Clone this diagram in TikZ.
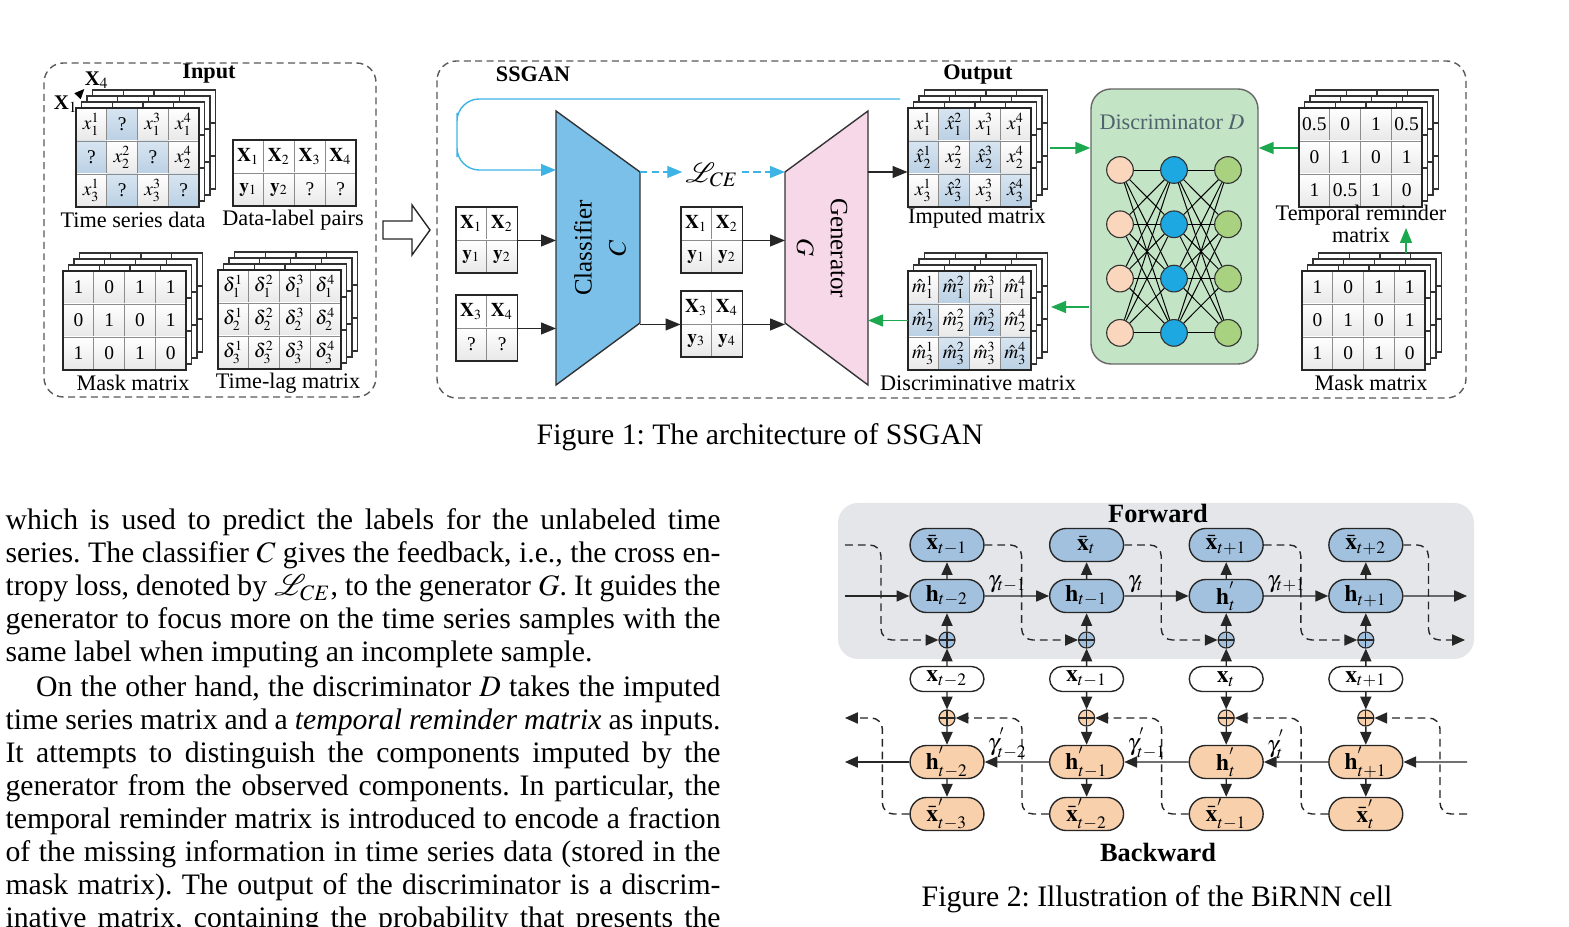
\documentclass[tikz,border=0pt]{standalone}
\usepackage{mathptmx}
\usepackage{fontspec}
\setmainfont{Liberation Serif}
\usetikzlibrary{arrows.meta,shapes.misc}

\definecolor{qtop}{RGB}{216,229,241}
\definecolor{qbot}{RGB}{186,208,228}
\definecolor{clsblue}{RGB}{122,192,233}
\definecolor{genpink}{RGB}{246,216,232}
\definecolor{discgreen}{RGB}{196,228,198}
\definecolor{dlabel}{RGB}{80,98,110}
\definecolor{fbblue}{RGB}{62,180,230}
\definecolor{arrgreen}{RGB}{28,168,78}
\definecolor{neurpeach}{RGB}{250,214,188}
\definecolor{neurblue}{RGB}{30,168,226}
\definecolor{neurgreen}{RGB}{168,210,128}
\definecolor{fwdblue}{RGB}{162,193,222}
\definecolor{bwdpeach}{RGB}{248,208,172}
\definecolor{bggray}{RGB}{229,230,233}

\tikzset{
  cell/.style={draw=black!45, line width=0.35pt, minimum width=11.07pt,
    minimum height=11.88pt, inner sep=0pt, font=\fontsize{7}{8}\selectfont},
  wc/.style={fill=white},
  pc/.style={top color=white, bottom color=black!9},
  qc/.style={top color=qtop, bottom color=qbot},
  matframe/.style={draw=black!85, line width=0.7pt},
  backgrid/.style={draw=black!80, line width=0.5pt, fill=white},
  lbl/.style={font=\fontsize{8}{9}\selectfont, inner sep=0pt},
  head/.style={font=\bfseries\fontsize{8}{9}\selectfont, inner sep=0pt},
  group/.style={draw=black!65, line width=0.5pt, dash pattern=on 2.5pt off 1.6pt,
    rounded corners=7pt},
  barr/.style={-{Triangle[length=5.4pt,width=4.3pt]}, line width=0.5pt, black!85},
  garr/.style={-{Triangle[length=5.4pt,width=4.3pt]}, line width=0.6pt, arrgreen},
  fbline/.style={-{Triangle[length=5.4pt,width=4.3pt]}, line width=0.5pt, fbblue},
  fbdash/.style={fbline, dash pattern=on 2.6pt off 1.6pt},
  trap/.style={draw=black!80, line width=0.5pt},
  neuron/.style={circle, draw=black!80, line width=0.4pt, minimum size=9.6pt, inner sep=0pt},
  wire/.style={line width=0.35pt, black},
  fwd/.style={shape=rounded rectangle, draw=black!85, line width=0.5pt, fill=fwdblue,
    minimum width=26.6pt, minimum height=11.9pt, inner sep=0pt,
    font=\fontsize{8.5}{9}\selectfont},
  bwd/.style={fwd, fill=bwdpeach},
  inp/.style={fwd, fill=white, minimum height=9pt},
  plus/.style={circle, draw=black!85, line width=0.4pt, minimum size=5.8pt, inner sep=0pt,
    path picture={\draw[black!85, line width=0.4pt]
      (path picture bounding box.north) -- (path picture bounding box.south)
      (path picture bounding box.west) -- (path picture bounding box.east);}},
  arr/.style={-{Triangle[length=4.6pt,width=4pt]}, line width=0.5pt, black!85},
  darr/.style={arr, dash pattern=on 2.8pt off 1.8pt, rounded corners=4pt},
  gam/.style={font=\fontsize{8.5}{9}\selectfont, inner sep=1pt, anchor=south west},
  bodytext/.style={text width=257.4pt, align=justify, inner sep=0pt, anchor=base west,
    font=\fontsize{10.7}{11.88}\selectfont},
  caption/.style={font=\fontsize{10.7}{12}\selectfont, inner sep=0pt}
}

% one matrix with three layers stacked behind it
\newcommand\stackmat[3]{%
  \begin{scope}[shift={#1}]
    \foreach \k in {3,2,1}
      \draw[backgrid, shift={(5.5*\k,-6*\k)}] (0,0) rectangle (123,99)
        (30.75,0) -- (30.75,99) (61.5,0) -- (61.5,99) (92.25,0) -- (92.25,99)
        (0,33) -- (123,33) (0,66) -- (123,66);
    \foreach \sty/\txt [count=\i from 0] in {#3} {
      \pgfmathtruncatemacro\col{mod(\i,4)}
      \pgfmathtruncatemacro\row{div(\i,4)}
      \node[cell, \sty] (#2-\row-\col) at (\col*30.75+15.375, \row*33+16.5) {\txt};
    }
    \draw[matframe] (0,0) rectangle (123,99);
  \end{scope}}

% two-row table of data and labels
\newcommand\pairbox[4]{%
  \begin{scope}[shift={#1}]
    \foreach \sty/\txt [count=\i from 0] in {#4} {
      \pgfmathtruncatemacro\col{mod(\i,#3)}
      \pgfmathtruncatemacro\row{div(\i,#3)}
      \node[cell, \sty] (#2-\row-\col) at (\col*30.75+15.375, \row*33+16.5) {\txt};
    }
    \draw[matframe] (0,0) rectangle (#3*30.75,66);
  \end{scope}}

\frenchspacing
\begin{document}
\begin{tikzpicture}[x=0.36pt, y=-0.36pt]
  \useasboundingbox[fill=white] (0,0) rectangle (1569,927);

  %% Figure 1
  \draw[group] (44,63) rectangle (376,397);
  \draw[group] (437,61) rectangle (1466,398);
  \node[head] (inhead) at (209,74) {Input};
  \node[head] (sshead) at (533,74) {SSGAN};
  \node[head] (outhead) at (978,75) {Output};

  % input
  \stackmat{(76,108)}{ts}{pc/{$x^1_1$}, qc/?, pc/{$x^3_1$}, pc/{$x^4_1$},
    qc/?, pc/{$x^2_2$}, qc/?, pc/{$x^4_2$},
    pc/{$x^1_3$}, qc/?, pc/{$x^3_3$}, qc/?}
  \node[font=\bfseries\fontsize{7.5}{8}\selectfont, inner sep=0pt] (ax1) at (66,104) {X$_1$};
  \node[font=\bfseries\fontsize{7.5}{8}\selectfont, inner sep=0pt] (ax4) at (97,80) {X$_4$};
  \draw[-{Triangle[length=3.6pt,width=3pt]}, line width=0.6pt] (ax1.north east) -- (ax4.south west);
  \pairbox{(233,140)}{dl}{4}{wc/{$\mathbf{X}_1$}, wc/{$\mathbf{X}_2$}, wc/{$\mathbf{X}_3$},
    wc/{$\mathbf{X}_4$}, pc/{$\mathbf{y}_1$}, pc/{$\mathbf{y}_2$}, pc/?, pc/?}
  \node[lbl] (tslab) at (133,220) {Time series data};
  \node[lbl] (dllab) at (293,220) {Data-label pairs};
  \stackmat{(63,271)}{mk}{pc/1, pc/0, pc/1, pc/1, pc/0, pc/1, pc/0, pc/1, pc/1, pc/0, pc/1, pc/0}
  \stackmat{(218,270)}{tl}{pc/{$\delta^1_1$}, pc/{$\delta^2_1$}, pc/{$\delta^3_1$}, pc/{$\delta^4_1$},
    pc/{$\delta^1_2$}, pc/{$\delta^2_2$}, pc/{$\delta^3_2$}, pc/{$\delta^4_2$},
    pc/{$\delta^1_3$}, pc/{$\delta^2_3$}, pc/{$\delta^3_3$}, pc/{$\delta^4_3$}}
  \node[lbl] (mklab) at (133,383) {Mask matrix};
  \node[lbl] (tllab) at (288,383) {Time-lag matrix};

  % hollow arrow
  \draw[fill=white, draw=black!85, line width=0.5pt] (383,221) -- (412,221) -- (412,205)
    -- (430,230) -- (412,255) -- (412,239) -- (383,239) -- cycle;

  % classifier and generator
  \draw[trap, fill=clsblue] (556,111) -- (640,172) -- (640,323) -- (556,385) -- cycle;
  \draw[trap, fill=genpink] (785,172) -- (868,111) -- (868,385) -- (785,323) -- cycle;
  \coordinate (cls-l) at (556,111);
  \coordinate (cls-r) at (640,172);
  \coordinate (cls-fb) at (556,170);
  \coordinate (gen-l) at (785,172);
  \coordinate (gen-r) at (868,172);
  \node[rotate=90, align=center, font=\fontsize{9}{12.2}\selectfont] (clstext) at (600,248)
    {Classifier\\$C$};
  \node[rotate=-90, align=center, font=\fontsize{9}{12.2}\selectfont] (gentext) at (822,248)
    {Generator\\$G$};

  \pairbox{(456,207)}{bx1}{2}{wc/{$\mathbf{X}_1$}, wc/{$\mathbf{X}_2$}, pc/{$\mathbf{y}_1$}, pc/{$\mathbf{y}_2$}}
  \pairbox{(456,295)}{bx2}{2}{wc/{$\mathbf{X}_3$}, wc/{$\mathbf{X}_4$}, pc/?, pc/?}
  \pairbox{(681,207)}{bx3}{2}{wc/{$\mathbf{X}_1$}, wc/{$\mathbf{X}_2$}, pc/{$\mathbf{y}_1$}, pc/{$\mathbf{y}_2$}}
  \pairbox{(681,291)}{bx4}{2}{wc/{$\mathbf{X}_3$}, wc/{$\mathbf{X}_4$}, pc/{$\mathbf{y}_3$}, pc/{$\mathbf{y}_4$}}

  \draw[barr] (bx1-0-1.south east) -- (bx1-0-1.south east -| cls-l);
  \draw[barr] (bx2-0-1.south east) -- (bx2-0-1.south east -| cls-l);
  \draw[barr] (bx4-0-0.south west -| cls-r) -- (bx4-0-0.south west);
  \draw[barr] (bx3-0-1.south east) -- (bx3-0-1.south east -| gen-l);
  \draw[barr] (bx4-0-1.south east) -- (bx4-0-1.south east -| gen-l);

  % feedback loop
  \coordinate (fb-start) at (900,99);
  \draw[fbline, rounded corners=8pt] (fb-start) -| (457,135) |- (cls-fb);
  \node[font=\fontsize{10}{12}\selectfont, inner sep=1pt] (lce) at (712,175) {$\mathcal{L}_{CE}$};
  \draw[fbdash] (cls-r) -- (cls-r -| lce.west);
  \draw[fbdash] (lce.east |- gen-l) -- (gen-l);

  % output
  \stackmat{(908,108)}{im}{pc/{$x^1_1$}, qc/{$\hat{x}^2_1$}, pc/{$x^3_1$}, pc/{$x^4_1$},
    qc/{$\hat{x}^1_2$}, pc/{$x^2_2$}, qc/{$\hat{x}^3_2$}, pc/{$x^4_2$},
    pc/{$x^1_3$}, qc/{$\hat{x}^2_3$}, pc/{$x^3_3$}, qc/{$\hat{x}^4_3$}}
  \stackmat{(908,271)}{dm}{pc/{$\hat{m}^1_1$}, qc/{$\hat{m}^2_1$}, pc/{$\hat{m}^3_1$}, pc/{$\hat{m}^4_1$},
    qc/{$\hat{m}^1_2$}, pc/{$\hat{m}^2_2$}, qc/{$\hat{m}^3_2$}, pc/{$\hat{m}^4_2$},
    pc/{$\hat{m}^1_3$}, qc/{$\hat{m}^2_3$}, pc/{$\hat{m}^3_3$}, qc/{$\hat{m}^4_3$}}
  \node[lbl] (imlab) at (977,218) {Imputed matrix};
  \node[lbl] (dmlab) at (978,383) {Discriminative matrix};
  \draw[barr] (gen-r) -- (gen-r -| im-1-0.west);

  % discriminator
  \node[draw=black!60, line width=0.5pt, fill=discgreen, rounded corners=7.2pt,
    minimum width=60.1pt, minimum height=99pt, inner sep=0pt] (disc) at (1174.5,226.5) {};
  \node[lbl, text=dlabel] (dlab) at (1172,122) {Discriminator $D$};
  \foreach \j in {0,...,3} {
    \node[neuron, fill=neurpeach] (na\j) at (1120,170+54.3*\j) {};
    \node[neuron, fill=neurblue] (nb\j) at (1174,170+54.3*\j) {};
    \node[neuron, fill=neurgreen] (nc\j) at (1228,170+54.3*\j) {};
  }
  \foreach \a in {0,...,3}
    \foreach \b in {0,...,3} {
      \draw[wire] (na\a) -- (nb\b);
      \draw[wire] (nb\a) -- (nc\b);
    }

  % temporal reminder and mask
  \stackmat{(1299,108)}{tr}{pc/0.5, pc/0, pc/1, pc/0.5, pc/0, pc/1, pc/0, pc/1, pc/1, pc/0.5, pc/1, pc/0}
  \node[lbl, align=center, font=\fontsize{8}{6.2}\selectfont] (trlab) at (1361,224)
    {Temporal reminder\\matrix};
  \stackmat{(1302,271)}{mr}{pc/1, pc/0, pc/1, pc/1, pc/0, pc/1, pc/0, pc/1, pc/1, pc/0, pc/1, pc/0}
  \node[lbl] (mrlab) at (1371,383) {Mask matrix};

  \coordinate (im-out) at (1050,148);
  \coordinate (tr-out) at (1298,148);
  \coordinate (disc-out) at (1089,307);
  \coordinate (dm-in) at (1051,307);
  \coordinate (mr-top) at (1406,253);
  \coordinate (tr-foot) at (1406,228);
  \draw[garr] (im-out) -- (im-out -| disc.west);
  \draw[garr] (tr-out) -- (tr-out -| disc.east);
  \draw[garr] (disc-out) -- (dm-in);
  \draw[garr] (dm-1-0.west) -- (dm-1-0.west -| gen-r);
  \draw[garr] (mr-top) -- (tr-foot);

  \node[caption] (cap1) at (760,437) {Figure 1: The architecture of SSGAN};

  %% Figure 2
  \fill[bggray, rounded corners=7.2pt] (838,503) rectangle (1474,659);
  \node[font=\bfseries\fontsize{9.5}{10}\selectfont, inner sep=0pt] (fwdlab) at (1158,513) {Forward};
  \node[font=\bfseries\fontsize{9.5}{10}\selectfont, inner sep=0pt] (bwdlab) at (1158,852) {Backward};

  \foreach \i/\lxb/\lhf/\lxi/\lhb/\lxbb in {
    0/{$\bar{\mathbf{x}}_{t-1}$}/{$\mathbf{h}_{t-2}$}/{$\mathbf{x}_{t-2}$}/{$\mathbf{h}^{'}_{t-2}$}/{$\bar{\mathbf{x}}^{'}_{t-3}$},
    1/{$\bar{\mathbf{x}}_{t}$}/{$\mathbf{h}_{t-1}$}/{$\mathbf{x}_{t-1}$}/{$\mathbf{h}^{'}_{t-1}$}/{$\bar{\mathbf{x}}^{'}_{t-2}$},
    2/{$\bar{\mathbf{x}}_{t+1}$}/{$\mathbf{h}^{'}_{t}$}/{$\mathbf{x}_{t}$}/{$\mathbf{h}^{'}_{t}$}/{$\bar{\mathbf{x}}^{'}_{t-1}$},
    3/{$\bar{\mathbf{x}}_{t+2}$}/{$\mathbf{h}_{t+1}$}/{$\mathbf{x}_{t+1}$}/{$\mathbf{h}^{'}_{t+1}$}/{$\bar{\mathbf{x}}^{'}_{t}$}} {
    \pgfmathsetmacro\xx{947+139.6*\i}
    \node[fwd] (xb\i) at (\xx,545) {\lxb};
    \node[fwd] (hf\i) at (\xx,596) {\lhf};
    \node[plus, fill=fwdblue] (pf\i) at (\xx,640) {};
    \node[inp] (xi\i) at (\xx,679) {\lxi};
    \node[plus, fill=bwdpeach] (pb\i) at (\xx,718) {};
    \node[bwd] (hb\i) at (\xx,762) {\lhb};
    \node[bwd] (xbb\i) at (\xx,814) {\lxbb};
  }
  \foreach \i in {0,...,3} {
    \draw[arr] (xi\i) -- (pf\i);
    \draw[arr] (pf\i) -- (hf\i);
    \draw[arr] (hf\i) -- (xb\i);
    \draw[arr] (xi\i) -- (pb\i);
    \draw[arr] (pb\i) -- (hb\i);
    \draw[arr] (hb\i) -- (xbb\i);
  }
  \coordinate (f-in) at (845,596);
  \coordinate (f-out) at (1467,596);
  \coordinate (b-in) at (1467,762);
  \coordinate (b-out) at (845,762);
  \coordinate (fd-in) at (845,545);
  \coordinate (fd-out) at (1465,640);
  \coordinate (bd-in) at (1467,814);
  \coordinate (bd-out) at (845,718);
  \draw[arr] (f-in) -- (hf0);
  \draw[arr] (hf3) -- (f-out);
  \draw[arr] (b-in) -- (hb3);
  \draw[arr] (hb0) -- (b-out);
  \draw[darr] (fd-in) -- ++(36,0) |- (pf0.west);
  \draw[darr] (xb3.east) -- ++(25,0) |- (fd-out);
  \draw[darr] (bd-in) -- ++(-27,0) |- (pb3.east);
  \draw[darr] (xbb0.west) -- ++(-27,0) |- (bd-out);
  \foreach \i/\gf/\gb [evaluate=\i as \j using int(\i+1)] in
      {0/{$\gamma_{t-1}$}/{$\gamma^{'}_{t-2}$}, 1/{$\gamma_{t}$}/{$\gamma^{'}_{t-1}$},
       2/{$\gamma_{t+1}$}/{$\gamma^{'}_{t}$}} {
    \draw[arr] (hf\i) -- (hf\j);
    \draw[arr] (hb\j) -- (hb\i);
    \draw[darr] (xb\i.east) -- ++(37,0) |- (pf\j.west);
    \draw[darr] (xbb\j.west) -- ++(-27,0) |- (pb\i.east);
    \node[gam] (gf\i) at (hf\i.east) {\gf};
    \node[gam] (gb\i) at (hb\i.east) {\gb};
  }
  \node[caption] (cap2) at (1157,899) {Figure 2: Illustration of the BiRNN cell};

  %% body text
  \node[bodytext] (para1) at (5,530) {which is used to predict the labels for the unlabeled time\linebreak
    series. The classifier $C$ gives the feedback, i.e., the cross en-\linebreak
    tropy loss, denoted by $\mathcal{L}_{CE}$, to the generator $G$. It guides the\linebreak
    generator to focus more on the time series samples with the\linebreak
    same label when imputing an incomplete sample.};
  \node[bodytext] (para2) at (5,697) {\hspace*{11pt}On the other hand, the discriminator $D$ takes the imputed\linebreak
    time series matrix and a \textit{temporal reminder matrix} as inputs.\linebreak
    It attempts to distinguish the components imputed by the\linebreak
    generator from the observed components. In particular, the\linebreak
    temporal reminder matrix is introduced to encode a fraction\linebreak
    of the missing information in time series data (stored in the\linebreak
    mask matrix). The output of the discriminator is a discrim-\linebreak
    inative matrix, containing the probability that presents the\linebreak\mbox{}};
\end{tikzpicture}
\end{document}
